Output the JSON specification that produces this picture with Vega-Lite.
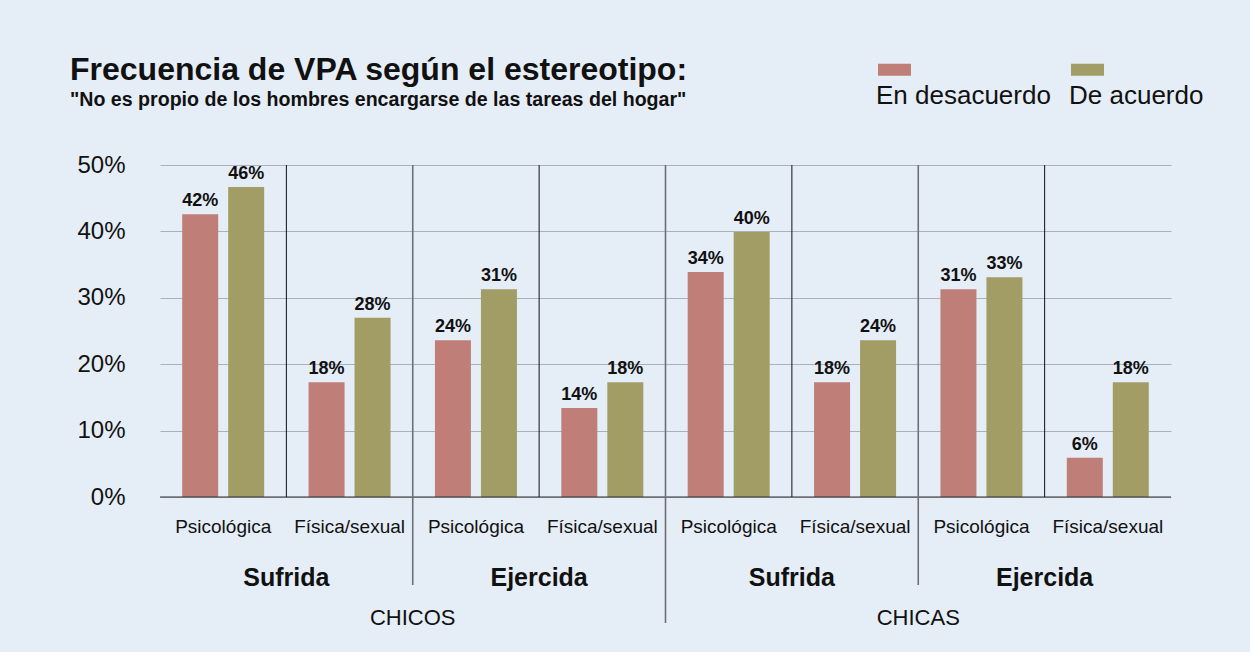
{
  "$schema": "https://vega.github.io/schema/vega-lite/v6.json",
  "autosize": {"type": "none"},
  "width": 1011,
  "height": 332,
  "padding": {"left": 160, "top": 165, "right": 79, "bottom": 155},
  "background": "#e5edf7",
  "config": {
    "view": {"stroke": null},
    "font": "Liberation Sans"
  },
  "title": {
    "text": "Frecuencia de VPA según el estereotipo:",
    "subtitle": "\"No es propio de los hombres encargarse de las tareas del hogar\"",
    "anchor": "start",
    "frame": "group",
    "dx": -90,
    "offset": -24,
    "font": "Liberation Sans",
    "fontSize": 32,
    "fontWeight": "bold",
    "color": "#111111",
    "subtitleFont": "Liberation Sans",
    "subtitleFontSize": 19.6,
    "subtitleFontWeight": "bold",
    "subtitleColor": "#111111",
    "subtitlePadding": 4
  },
  "datasets": {
    "barras": [
      {"grp": "CHICOS|Sufrida|Psicológica", "serie": "En desacuerdo", "valor": 0.426, "etiqueta": "42%"},
      {"grp": "CHICOS|Sufrida|Psicológica", "serie": "De acuerdo", "valor": 0.467, "etiqueta": "46%"},
      {"grp": "CHICOS|Sufrida|Física/sexual", "serie": "En desacuerdo", "valor": 0.173, "etiqueta": "18%"},
      {"grp": "CHICOS|Sufrida|Física/sexual", "serie": "De acuerdo", "valor": 0.270, "etiqueta": "28%"},
      {"grp": "CHICOS|Ejercida|Psicológica", "serie": "En desacuerdo", "valor": 0.236, "etiqueta": "24%"},
      {"grp": "CHICOS|Ejercida|Psicológica", "serie": "De acuerdo", "valor": 0.313, "etiqueta": "31%"},
      {"grp": "CHICOS|Ejercida|Física/sexual", "serie": "En desacuerdo", "valor": 0.134, "etiqueta": "14%"},
      {"grp": "CHICOS|Ejercida|Física/sexual", "serie": "De acuerdo", "valor": 0.173, "etiqueta": "18%"},
      {"grp": "CHICAS|Sufrida|Psicológica", "serie": "En desacuerdo", "valor": 0.339, "etiqueta": "34%"},
      {"grp": "CHICAS|Sufrida|Psicológica", "serie": "De acuerdo", "valor": 0.399, "etiqueta": "40%"},
      {"grp": "CHICAS|Sufrida|Física/sexual", "serie": "En desacuerdo", "valor": 0.173, "etiqueta": "18%"},
      {"grp": "CHICAS|Sufrida|Física/sexual", "serie": "De acuerdo", "valor": 0.236, "etiqueta": "24%"},
      {"grp": "CHICAS|Ejercida|Psicológica", "serie": "En desacuerdo", "valor": 0.313, "etiqueta": "31%"},
      {"grp": "CHICAS|Ejercida|Psicológica", "serie": "De acuerdo", "valor": 0.331, "etiqueta": "33%"},
      {"grp": "CHICAS|Ejercida|Física/sexual", "serie": "En desacuerdo", "valor": 0.059, "etiqueta": "6%"},
      {"grp": "CHICAS|Ejercida|Física/sexual", "serie": "De acuerdo", "valor": 0.173, "etiqueta": "18%"}
    ],
    "separadores": [
      {"grp": "CHICOS|Sufrida|Física/sexual", "nivel": "tipo"},
      {"grp": "CHICOS|Ejercida|Psicológica", "nivel": "rol"},
      {"grp": "CHICOS|Ejercida|Física/sexual", "nivel": "tipo"},
      {"grp": "CHICAS|Sufrida|Psicológica", "nivel": "genero"},
      {"grp": "CHICAS|Sufrida|Física/sexual", "nivel": "tipo"},
      {"grp": "CHICAS|Ejercida|Psicológica", "nivel": "rol"},
      {"grp": "CHICAS|Ejercida|Física/sexual", "nivel": "tipo"}
    ],
    "pares": [
      {"par": "CHICOS|Sufrida", "rol": "Sufrida"},
      {"par": "CHICOS|Ejercida", "rol": "Ejercida"},
      {"par": "CHICAS|Sufrida", "rol": "Sufrida"},
      {"par": "CHICAS|Ejercida", "rol": "Ejercida"}
    ],
    "generos": [
      {"genero": "CHICOS"},
      {"genero": "CHICAS"}
    ]
  },
  "resolve": {"scale": {"x": "independent", "xOffset": "independent"}},
  "layer": [
    {
      "data": {"name": "barras"},
      "mark": {"type": "bar"},
      "encoding": {
        "x": {
          "field": "grp", "type": "nominal", "sort": null,
          "scale": {"type": "band", "paddingInner": 0, "paddingOuter": 0},
          "axis": {
            "title": null, "labelExpr": "split(datum.label, '|')[2]",
            "labelAngle": 0, "ticks": false, "domain": false, "grid": false,
            "labelPadding": 20, "labelFontSize": 19, "labelFont": "Liberation Sans",
            "labelColor": "#111111"
          }
        },
        "xOffset": {
          "field": "serie", "type": "nominal",
          "sort": ["En desacuerdo", "De acuerdo"],
          "scale": {"type": "band", "paddingInner": 0.2174, "paddingOuter": 0.4826}
        },
        "y": {
          "field": "valor", "type": "quantitative",
          "scale": {"domain": [0, 0.5], "nice": false},
          "axis": {
            "title": null, "values": [0, 0.1, 0.2, 0.3, 0.4, 0.5], "format": ".0%",
            "ticks": false, "domain": false, "grid": true, "gridColor": "#a9b1bc",
            "gridWidth": 1, "labelPadding": 35, "labelFontSize": 24,
            "labelFont": "Liberation Sans", "labelColor": "#111111"
          }
        },
        "color": {
          "field": "serie", "type": "nominal",
          "scale": {"domain": ["En desacuerdo", "De acuerdo"], "range": ["#bf7e77", "#a29d65"]},
          "legend": {
            "orient": "none", "legendX": 718, "legendY": -78,
            "direction": "horizontal", "title": null,
            "symbolType": "M-1,-2.424H1V-1.697H-1Z", "symbolSize": 1089,
            "symbolStrokeWidth": 0,
            "labelOffset": -35, "labelBaseline": "alphabetic",
            "labelFontSize": 26, "labelFont": "Liberation Sans", "labelColor": "#111111",
            "labelLimit": 400, "columnPadding": 18, "padding": 0
          }
        }
      }
    },
    {
      "data": {"name": "barras"},
      "mark": {"type": "text", "dy": -8, "baseline": "alphabetic", "fontSize": 18, "fontWeight": "bold", "font": "Liberation Sans", "color": "#111111"},
      "encoding": {
        "x": {"field": "grp", "type": "nominal", "sort": null, "scale": {"type": "band", "paddingInner": 0, "paddingOuter": 0}, "axis": null},
        "xOffset": {"field": "serie", "type": "nominal", "sort": ["En desacuerdo", "De acuerdo"], "scale": {"type": "band", "paddingInner": 0.2174, "paddingOuter": 0.4826}},
        "y": {"field": "valor", "type": "quantitative"},
        "text": {"field": "etiqueta"}
      }
    },
    {
      "data": {"values": [{}]},
      "mark": {"type": "rule", "color": "#333333", "strokeWidth": 1.2},
      "encoding": {"y": {"datum": 0}}
    },
    {
      "data": {"name": "separadores"},
      "transform": [{"filter": "datum.nivel === 'tipo'"}],
      "mark": {"type": "rule", "color": "#111111", "strokeWidth": 1},
      "encoding": {
        "x": {"field": "grp", "type": "nominal", "bandPosition": 0,
              "scale": {"type": "band", "paddingInner": 0, "paddingOuter": 0,
                        "domain": ["CHICOS|Sufrida|Psicológica", "CHICOS|Sufrida|Física/sexual", "CHICOS|Ejercida|Psicológica", "CHICOS|Ejercida|Física/sexual", "CHICAS|Sufrida|Psicológica", "CHICAS|Sufrida|Física/sexual", "CHICAS|Ejercida|Psicológica", "CHICAS|Ejercida|Física/sexual"]},
              "axis": null},
        "y": {"datum": 0.5},
        "y2": {"datum": 0}
      }
    },
    {
      "data": {"name": "separadores"},
      "transform": [{"filter": "datum.nivel === 'rol'"}],
      "mark": {"type": "rule", "color": "#6b7177", "strokeWidth": 1.6},
      "encoding": {
        "x": {"field": "grp", "type": "nominal", "bandPosition": 0,
              "scale": {"type": "band", "paddingInner": 0, "paddingOuter": 0,
                        "domain": ["CHICOS|Sufrida|Psicológica", "CHICOS|Sufrida|Física/sexual", "CHICOS|Ejercida|Psicológica", "CHICOS|Ejercida|Física/sexual", "CHICAS|Sufrida|Psicológica", "CHICAS|Sufrida|Física/sexual", "CHICAS|Ejercida|Psicológica", "CHICAS|Ejercida|Física/sexual"]},
              "axis": null},
        "y": {"datum": 0.5},
        "y2": {"datum": -0.1325}
      }
    },
    {
      "data": {"name": "separadores"},
      "transform": [{"filter": "datum.nivel === 'genero'"}],
      "mark": {"type": "rule", "color": "#6b7177", "strokeWidth": 1.6},
      "encoding": {
        "x": {"field": "grp", "type": "nominal", "bandPosition": 0,
              "scale": {"type": "band", "paddingInner": 0, "paddingOuter": 0,
                        "domain": ["CHICOS|Sufrida|Psicológica", "CHICOS|Sufrida|Física/sexual", "CHICOS|Ejercida|Psicológica", "CHICOS|Ejercida|Física/sexual", "CHICAS|Sufrida|Psicológica", "CHICAS|Sufrida|Física/sexual", "CHICAS|Ejercida|Psicológica", "CHICAS|Ejercida|Física/sexual"]},
              "axis": null},
        "y": {"datum": 0.5},
        "y2": {"datum": -0.1898}
      }
    },
    {
      "data": {"name": "pares"},
      "mark": {"type": "text", "baseline": "alphabetic", "fontSize": 25, "fontWeight": "bold", "font": "Liberation Sans", "color": "#111111"},
      "encoding": {
        "x": {"field": "par", "type": "nominal", "sort": null, "scale": {"type": "band", "paddingInner": 0, "paddingOuter": 0}, "axis": null},
        "y": {"datum": -0.134},
        "text": {"field": "rol"}
      }
    },
    {
      "data": {"name": "generos"},
      "mark": {"type": "text", "baseline": "alphabetic", "fontSize": 22, "font": "Liberation Sans", "color": "#111111"},
      "encoding": {
        "x": {"field": "genero", "type": "nominal", "sort": null, "scale": {"type": "band", "paddingInner": 0, "paddingOuter": 0}, "axis": null},
        "y": {"datum": -0.1928},
        "text": {"field": "genero"}
      }
    }
  ]
}
